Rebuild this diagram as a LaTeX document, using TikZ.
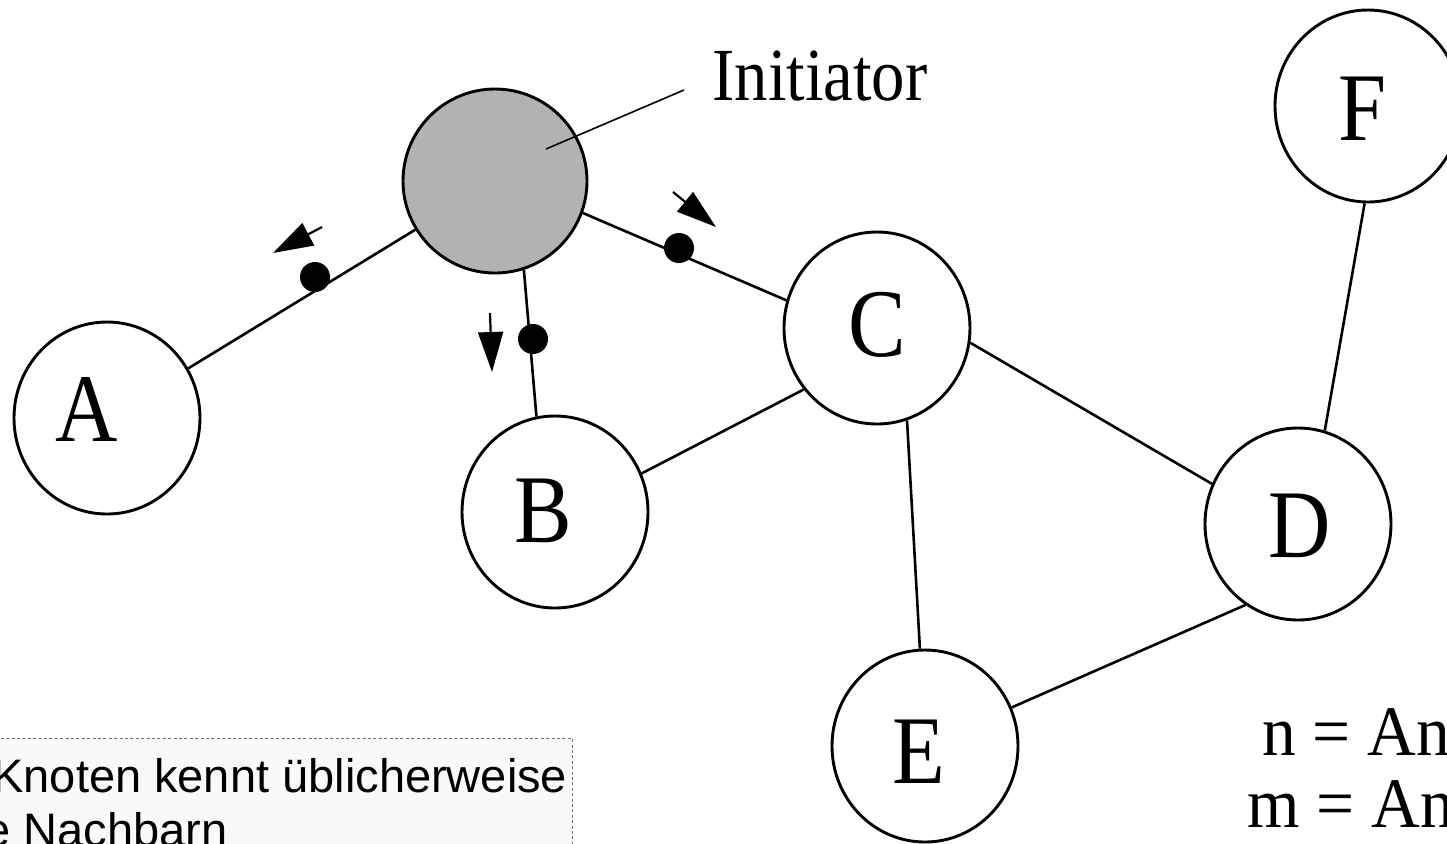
\documentclass[tikz,border=0pt]{standalone}
\usepackage{fontspec}
\usepackage{graphicx}
\setmainfont{Liberation Serif}
\newfontfamily\boxfont{Liberation Sans}
\usetikzlibrary{shapes.geometric,arrows.meta}
\definecolor{initgray}{RGB}{178,178,178}
\definecolor{boxfill}{RGB}{249,249,249}
\definecolor{boxline}{RGB}{110,110,110}
\tikzset{
  vertex/.style={ellipse,draw,line width=1.45pt,minimum width=93pt,minimum height=96pt,inner sep=0pt,fill=white},
  initnode/.style={vertex,fill=initgray,minimum width=92pt,minimum height=92pt},
  letter/.style={anchor=base,inner sep=0pt,font=\fontsize{48.5}{48.5}\selectfont},
  bigtext/.style={anchor=base west,inner sep=0pt,font=\fontsize{37.5}{37.5}\selectfont},
  formula/.style={anchor=base west,inner sep=0pt,font=\fontsize{35.5}{35.5}\selectfont},
  boxtext/.style={anchor=base west,inner sep=0pt,font=\boxfont\fontsize{23.5}{23.5}\selectfont},
  edge/.style={line width=1.3pt},
  pointer/.style={line width=0.8pt},
  msgdot/.style={circle,fill=black,inner sep=0pt,minimum size=15pt},
  msgarrow/.style={line width=1.1pt,-{Triangle[length=20pt,width=12.5pt]}},
  notebox/.style={draw=boxline,fill=boxfill,line width=0.5pt,dash pattern=on 1.5pt off 1.2pt}
}
\begin{document}
\begin{tikzpicture}[x=0.5pt,y=-0.5pt]
\useasboundingbox (0,0) rectangle (1447,843);
\clip (0,0) rectangle (1447,843);
% note box
\draw[notebox] (-10,738) rectangle (572,900);
\node[boxtext] (t1) at (-8,792) {Knoten kennt üblicherweise};
\node[boxtext] (t2) at (-16,846) {e Nachbarn};
% nodes
\node[initnode] (I) at (495,181) {};
\node[vertex] (A) at (107,418) {};
\node[vertex] (B) at (555,512) {};
\node[vertex] (C) at (877,328) {};
\node[vertex] (D) at (1298,524) {};
\node[vertex] (E) at (925,746) {};
\node[vertex] (F) at (1368,106) {};
\node[letter] (lA) at (87,441) {\scalebox{0.89}[1]{A}};
\node[letter] (lB) at (543,542) {\scalebox{0.89}[1]{B}};
\node[letter] (lC) at (877,356) {\scalebox{0.89}[1]{C}};
\node[letter] (lD) at (1300,557) {\scalebox{0.89}[1]{D}};
\node[letter] (lE) at (919,783) {\scalebox{0.89}[1]{E}};
\node[letter] (lF) at (1362,140) {\scalebox{0.89}[1]{F}};
% edges
\draw[edge] (I) -- (A);
\draw[edge] (I.-72) -- (B.101);
\draw[edge] (I.-20) -- (C.163);
\draw[edge] (B.24) -- (C.220);
\draw[edge] (C.288) -- (E.93);
\draw[edge] (C.-9) -- (D.155);
\draw[edge] (D.237) -- (E.24);
\draw[edge] (D.74) -- (F.268);
% messages
\node[msgdot] (m1) at (315,277) {};
\node[msgdot] (m2) at (533,339) {};
\node[msgdot] (m3) at (679,248) {};
\coordinate (a1s) at (322,227);
\coordinate (a1e) at (273,253);
\coordinate (a2s) at (490,313);
\coordinate (a2e) at (492,372);
\coordinate (a3s) at (673,192);
\coordinate (a3e) at (716,227);
\draw[msgarrow] (a1s) -- (a1e);
\draw[msgarrow] (a2s) -- (a2e);
\draw[msgarrow] (a3s) -- (a3e);
% initiator label
\coordinate (p1) at (546,149);
\coordinate (p2) at (684,90);
\draw[pointer] (p1) -- (p2);
\node[bigtext] (lab) at (712,100) {\scalebox{0.89}[1]{Initiator}};
% formulas
\node[formula] (f1) at (1262,755) {\scalebox{0.95}[1]{n = An}};
\node[formula] (f2) at (1247,827) {\scalebox{0.95}[1]{m = An}};
\end{tikzpicture}
\end{document}
